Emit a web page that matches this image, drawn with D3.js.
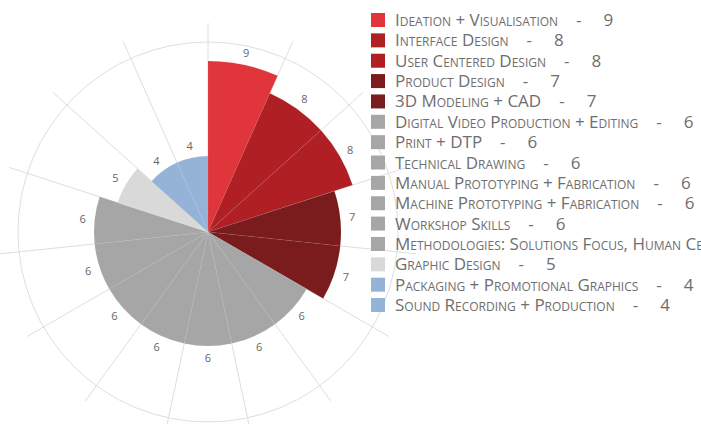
<!DOCTYPE html>
<meta charset="utf-8">
<style>
body { margin: 0; background: #fff; }
.grid { fill: none; stroke: #dedede; stroke-width: 1px; }
.slice { stroke: #fff; stroke-opacity: 0.1; stroke-width: 0.6px; }
.val { font-family: "Open Sans", sans-serif; font-size: 11px; fill: #666; }
.legend text { font-family: "Open Sans", sans-serif; font-size: 17px; fill: #6e6e6e; font-variant: small-caps; }
</style>
<div id="chart"></div>
<script src="https://d3js.org/d3.v7.min.js"></script>
<script>

var categories = [
  "Ideation + Visualisation", "Interface Design", "User Centered Design",
  "Product Design", "3D Modeling + CAD", "Digital Video Production + Editing",
  "Print + DTP", "Technical Drawing", "Manual Prototyping + Fabrication",
  "Machine Prototyping + Fabrication", "Workshop Skills",
  "Methodologies: Solutions Focus, Human Centered Design",
  "Graphic Design", "Packaging + Promotional Graphics", "Sound Recording + Production"
];
var values = [9, 8, 8, 7, 7, 6, 6, 6, 6, 6, 6, 6, 5, 4, 4];
var palette = ["#e0353a", "#b01f24", "#b01f24", "#7a1c1d", "#7a1c1d",
  "#a6a6a6", "#a6a6a6", "#a6a6a6", "#a6a6a6", "#a6a6a6", "#a6a6a6", "#a6a6a6",
  "#d9d9d9", "#95b3d7", "#95b3d7"];

var width = 701, height = 424;
var cx = 208, cy = 232;

var data = categories.map(function(c, i) { return {name: c, value: values[i]}; });

var color = d3.scaleOrdinal().domain(categories).range(palette);
var r = d3.scaleLinear().domain([0, 10]).range([0, 190]);
var step = 2 * Math.PI / data.length;

var svg = d3.select("#chart").append("svg")
  .attr("width", width)
  .attr("height", height);

var g = svg.append("g")
  .attr("transform", "translate(" + cx + "," + cy + ")");

// grid: spokes at slice boundaries + outer ring
g.selectAll(".spoke")
  .data(data)
  .enter().append("line")
  .attr("class", "grid")
  .attr("x1", 0).attr("y1", 0)
  .attr("x2", function(d, i) { return Math.sin(i * step) * r(11); })
  .attr("y2", function(d, i) { return -Math.cos(i * step) * r(11); });

g.append("circle")
  .attr("class", "grid")
  .attr("r", r(10));

var arc = d3.arc()
  .innerRadius(0)
  .outerRadius(function(d) { return r(d.value); })
  .startAngle(function(d, i) { return i * step; })
  .endAngle(function(d, i) { return (i + 1) * step; });

g.selectAll(".slice")
  .data(data)
  .enter().append("path")
  .attr("class", "slice")
  .attr("d", arc)
  .style("fill", function(d) { return color(d.name); });

g.selectAll(".val")
  .data(data)
  .enter().append("text")
  .attr("class", "val")
  .attr("text-anchor", "middle")
  .attr("dy", "0.35em")
  .attr("x", function(d, i) { return Math.sin((i + 0.5) * step) * (r(d.value) + 12); })
  .attr("y", function(d, i) { return -Math.cos((i + 0.5) * step) * (r(d.value) + 12); })
  .text(function(d) { return d.value; });

// legend
var legend = svg.append("g")
  .attr("class", "legend")
  .attr("transform", "translate(371,13)")
  .selectAll("g")
  .data(data)
  .enter().append("g")
  .attr("transform", function(d, i) { return "translate(0," + i * 20.36 + ")"; });

legend.append("rect")
  .attr("width", 14)
  .attr("height", 14)
  .style("fill", function(d) { return color(d.name); });

var lt = legend.append("text")
  .attr("x", 24)
  .attr("y", 13);
lt.append("tspan").text(function(d) { return d.name; });
lt.append("tspan").attr("dx", 18).text("-");
lt.append("tspan").attr("dx", 22).text(function(d) { return d.value; });

</script>
